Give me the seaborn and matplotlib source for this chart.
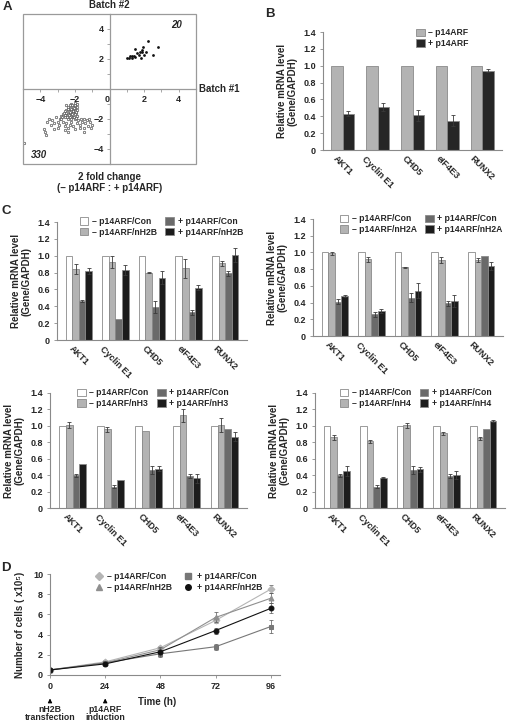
import numpy as np
import pandas as pd
import seaborn as sns
import matplotlib.pyplot as plt
from matplotlib.patches import Rectangle
from matplotlib.lines import Line2D
from matplotlib.ticker import MultipleLocator, FuncFormatter

# ---- panel A : 2 fold change scatter ----
up_x = [1.0, 1.2, 1.3, 1.4, 1.5, 1.6, 1.7, 1.8, 1.9, 1.95, 2.0, 2.2, 2.5, 2.8, 1.3, 1.1, 1.75, 1.85, 2.1, 1.45]
up_y = [2.1, 2.2, 2.1, 2.2, 2.7, 2.4, 2.3, 2.1, 2.6, 2.8, 2.3, 3.2, 2.3, 2.8, 2.2, 2.1, 2.45, 2.5, 2.5, 2.15]

down_x = [-2.0, -2.1, -2.2, -2.0, -1.9, -2.3, -2.1, -2.0, -2.2, -2.4, -2.5, -2.3, -2.1, -1.9, -1.95,
          -2.0, -2.2, -2.4, -2.6, -2.5, -2.7, -2.3, -2.1, -1.9, -2.0, -2.2, -2.4, -2.6, -2.8, -2.5,
          -2.3, -1.9, -2.0, -2.15, -2.35, -2.45, -2.05, -2.25, -1.95, -2.15, -2.35, -2.55, -2.65, -2.75,
          -2.85, -2.05, -1.92, -2.28, -2.12, -2.42,
          -3.5, -3.3, -3.1, -3.0, -2.9, -3.2, -2.7, -2.6, -2.5, -2.4, -2.3, -2.2, -2.1, -1.9, -1.8,
          -1.7, -1.6, -1.5, -1.4, -1.3, -1.2, -1.1, -1.0, -1.05, -1.25, -1.45, -1.65, -3.4, -2.8, -3.6,
          -2.95,
          -3.8, -3.7, -3.65, -3.2, -2.4, -1.7, -1.45, -4.95, -2.0, -2.6]
down_y = [-1.1, -1.2, -1.0, -1.3, -1.2, -1.3, -1.4, -1.5, -1.5, -1.2, -1.4, -1.6, -1.6, -1.4, -1.6,
          -1.7, -1.8, -1.7, -1.5, -1.6, -1.7, -1.9, -1.9, -1.8, -2.0, -2.0, -2.0, -1.9, -1.8, -1.1,
          -1.1, -1.0, -0.95, -1.05, -1.45, -1.85, -1.25, -1.35, -1.55, -1.7, -1.75, -1.75, -1.6, -1.9,
          -2.0, -1.85, -1.95, -1.55, -1.45, -1.35,
          -2.0, -2.1, -1.9, -2.2, -2.4, -2.3, -2.2, -2.5, -2.3, -2.6, -2.4, -2.2, -2.5, -2.3, -2.1,
          -2.4, -2.2, -2.0, -2.3, -2.1, -2.0, -2.2, -2.4, -2.6, -2.5, -2.6, -2.0, -2.4, -2.0, -2.2,
          -2.6,
          -2.7, -2.9, -3.1, -2.7, -2.9, -2.6, -2.9, -3.6, -2.7, -2.75]

# ---- panel B ----
genes = ["AKT1", "Cyclin E1", "CHD5", "eIF4E3", "RUNX2"]
b_labels = ["\u2013 p14ARF", "+ p14ARF"]
b_minus = [1.0, 1.0, 1.0, 1.0, 1.0]
b_plus = [0.43, 0.51, 0.41, 0.35, 0.94]
b_minus_err = [0, 0, 0, 0, 0]
b_plus_err = [0.03, 0.05, 0.06, 0.07, 0.02]

# ---- panel C ----
c_histones = ["nH2B", "nH2A", "nH3", "nH4"]
c_con_minus = {
    "nH2B": [1.0, 1.0, 1.0, 1.0, 1.0],
    "nH2A": [1.0, 1.0, 1.0, 1.0, 1.0],
    "nH3": [1.0, 1.0, 1.0, 1.0, 1.0],
    "nH4": [1.0, 1.0, 1.0, 1.0, 1.0],
}
c_h_minus = {
    "nH2B": [0.84, 0.93, 0.80, 0.85, 0.91],
    "nH2A": [0.99, 0.92, 0.82, 0.91, 0.91],
    "nH3": [1.01, 0.96, 0.94, 1.13, 1.01],
    "nH4": [0.86, 0.81, 1.01, 0.91, 0.85],
}
c_h_minus_err = {
    "nH2B": [0.06, 0.07, 0.01, 0.11, 0.03],
    "nH2A": [0.02, 0.03, 0.01, 0.04, 0.02],
    "nH3": [0.04, 0.03, 0.0, 0.08, 0.09],
    "nH4": [0.03, 0.02, 0.03, 0.02, 0.02],
}
c_con_plus = {
    "nH2B": [0.46, 0.25, 0.39, 0.33, 0.79],
    "nH2A": [0.41, 0.26, 0.46, 0.39, 0.96],
    "nH3": [0.40, 0.26, 0.46, 0.39, 0.96],
    "nH4": [0.40, 0.26, 0.46, 0.39, 0.96],
}
c_con_plus_err = {
    "nH2B": [0.01, 0.0, 0.07, 0.03, 0.03],
    "nH2A": [0.03, 0.03, 0.05, 0.03, 0.0],
    "nH3": [0.02, 0.02, 0.05, 0.02, 0.0],
    "nH4": [0.02, 0.02, 0.05, 0.03, 0.0],
}
c_h_plus = {
    "nH2B": [0.82, 0.83, 0.74, 0.62, 1.01],
    "nH2A": [0.48, 0.30, 0.54, 0.42, 0.84],
    "nH3": [0.53, 0.34, 0.48, 0.36, 0.87],
    "nH4": [0.45, 0.37, 0.47, 0.40, 1.06],
}
c_h_plus_err = {
    "nH2B": [0.04, 0.06, 0.08, 0.03, 0.08],
    "nH2A": [0.01, 0.02, 0.09, 0.07, 0.05],
    "nH3": [0.0, 0.0, 0.03, 0.06, 0.06],
    "nH4": [0.06, 0.01, 0.03, 0.05, 0.01],
}

# ---- panel D ----
time_h = [0, 24, 48, 72, 96]
d_labels = ["\u2013 p14ARF/Con", "\u2013 p14ARF/nH2B", "+ p14ARF/Con", "+ p14ARF/nH2B"]
d_vals = [
    [0.5, 1.3, 2.7, 5.4, 8.5],
    [0.5, 1.2, 2.5, 5.7, 7.6],
    [0.5, 1.2, 2.1, 2.8, 4.8],
    [0.5, 1.1, 2.3, 4.4, 6.6],
]
d_errs = [
    [0.1, 0.2, 0.2, 0.3, 0.4],
    [0.1, 0.2, 0.2, 0.5, 0.5],
    [0.1, 0.2, 0.2, 0.3, 0.6],
    [0.1, 0.2, 0.5, 0.3, 0.5],
]

sns.set_style("ticks")
plt.rcParams['font.family'] = ['Liberation Sans', 'DejaVu Sans']
plt.rcParams['font.weight'] = 'bold'
plt.rcParams['axes.labelweight'] = 'bold'

W, H = 512, 727
fig = plt.figure(figsize=(W / 100, H / 100), dpi=100)
GRAY = '#8a8a8a'
FS = 6.5


def px_axes(l, t, r, b):
    return fig.add_axes([l / W, 1 - b / H, (r - l) / W, (b - t) / H])


def style_bar_axes(ax):
    sns.despine(ax=ax)
    for s in ['left', 'bottom']:
        ax.spines[s].set_color(GRAY)
        ax.spines[s].set_linewidth(0.8)
    ax.set_ylim(0, 1.4)
    ax.set_yticks(np.arange(0, 1.41, 0.2))
    ax.yaxis.set_major_formatter(FuncFormatter(lambda v, p: '0' if abs(v) < 1e-9 else f'{v:.1f}'))
    ax.tick_params(axis='y', length=2, width=0.6, color=GRAY, labelsize=FS, pad=3)
    ax.tick_params(axis='x', length=0, labelsize=FS, pad=3)
    for t in ax.get_xticklabels():
        t.set_rotation(-45)
        t.set_ha('center')
        t.set_va('top')
    ax.set_xlabel('')
    ax.set_ylabel('Relative mRNA level\n(Gene/GAPDH)', fontsize=7, labelpad=4, linespacing=1.1)


def bar_panel(ax, series, errs, labels, colors, width, leg_anchor):
    rows = []
    for lab, vals in zip(labels, series):
        for g, v in zip(genes, vals):
            rows.append({'gene': g, 'cond': lab, 'value': v})
    df = pd.DataFrame(rows)
    sns.barplot(data=df, x='gene', y='value', hue='cond', hue_order=labels, order=genes,
                palette=colors, width=width, edgecolor=GRAY, linewidth=0.6,
                errorbar=None, ax=ax)
    bars = sorted([p for p in ax.patches if p.get_width() > 0], key=lambda p: p.get_x())
    err_flat = [errs[k][i] for i in range(len(genes)) for k in range(len(labels))]
    for p, e in zip(bars, err_flat):
        if e > 0:
            ax.errorbar(p.get_x() + p.get_width() / 2, p.get_height(), yerr=e, fmt='none',
                        ecolor='#3a3a3a', elinewidth=0.6, capsize=1.3, capthick=0.6)
    handles, labs = ax.get_legend_handles_labels()
    ax.legend(handles, labs, ncol=2 if len(labels) > 2 else 1, loc='upper left',
              bbox_to_anchor=leg_anchor, frameon=False, fontsize=FS - 0.3,
              handlelength=1.0, handleheight=1.0, handletextpad=0.4,
              columnspacing=1.0, labelspacing=0.15, borderpad=0, borderaxespad=0)
    style_bar_axes(ax)


# ---------------- panel A ----------------
axA = px_axes(23, 14, 196, 164)
axA.scatter(up_x, up_y, s=4, color='#111111', linewidths=0)
axA.scatter(down_x, down_y, s=3.2, facecolors='white', edgecolors='#444444', linewidths=0.45)
axA.set_xlim(-5, 5)
axA.set_ylim(-5, 5)
axA.spines['left'].set_position('zero')
axA.spines['bottom'].set_position('zero')
for s in ['top', 'right']:
    axA.spines[s].set_visible(False)
for s in ['left', 'bottom']:
    axA.spines[s].set_color('#9a9a9a')
    axA.spines[s].set_linewidth(0.9)
axA.add_patch(Rectangle((0, 0), 1, 1, transform=axA.transAxes, fill=False,
                        edgecolor='#9a9a9a', linewidth=0.9, clip_on=False))
axA.set_xticks([-4, -2, 0, 2, 4])
axA.set_yticks([-4, -2, 2, 4])
axA.xaxis.set_minor_locator(MultipleLocator(1))
axA.yaxis.set_minor_locator(MultipleLocator(1))
axA.tick_params(which='both', length=2, width=0.6, color='#9a9a9a', labelsize=FS, pad=2)
axA.xaxis.get_major_ticks()[2].label1.set_ha('right')
axA.text(0.5, 1.03, 'Batch #2', transform=axA.transAxes, ha='center', va='bottom', fontsize=7)
axA.text(1.02, 0.5, 'Batch #1', transform=axA.transAxes, ha='left', va='center', fontsize=7)
axA.text(3.9, 4.3, '20', fontsize=7, style='italic', ha='center', va='center')
axA.text(-4.1, -4.4, '330', fontsize=7, style='italic', ha='center', va='center')
axA.text(0.5, -0.05, '2 fold change\n(\u2013 p14ARF : + p14ARF)', transform=axA.transAxes,
         ha='center', va='top', fontsize=7, linespacing=1.2)

# ---------------- panel B ----------------
axB = px_axes(323, 32, 502, 150)
bar_panel(axB, [b_minus, b_plus], [b_minus_err, b_plus_err], b_labels,
          ['#b3b3b3', '#262626'], 0.66, ((416 - 323) / 179, 1.03))

# ---------------- panel C ----------------
c_colors = ['#ffffff', '#b3b3b3', '#6a6a6a', '#1c1c1c']
c_boxes = [(57, 222, 247, 340), (313, 219, 503, 336), (50, 393, 247, 508), (315, 393, 505, 508)]
c_anchor_x = [0.12, 0.14, 0.137, 0.13]
for h, box, ax_x in zip(c_histones, c_boxes, c_anchor_x):
    ax = px_axes(*box)
    labels = ["\u2013 p14ARF/Con", "\u2013 p14ARF/" + h, "+ p14ARF/Con", "+ p14ARF/" + h]
    series = [c_con_minus[h], c_h_minus[h], c_con_plus[h], c_h_plus[h]]
    errs = [[0] * 5, c_h_minus_err[h], c_con_plus_err[h], c_h_plus_err[h]]
    bar_panel(ax, series, errs, labels, c_colors, 0.72, (ax_x, 1.04))

# ---------------- panel D ----------------
axD = px_axes(50, 574, 280, 675)
d_colors = ['#b5b5b5', '#8f8f8f', '#777777', '#111111']
d_markers = ['D', '^', 's', 'o']
for vals, errs, col, mk in zip(d_vals, d_errs, d_colors, d_markers):
    axD.errorbar(time_h, vals, yerr=errs, fmt='none', ecolor='#555555', elinewidth=0.5,
                 capsize=1.3, capthick=0.5)
    sns.lineplot(x=time_h, y=vals, color=col, marker=mk, markersize=3.5, markeredgecolor=col,
                 linewidth=0.8, ax=axD)
proxies = [Line2D([], [], linestyle='none', marker=mk, color=col, markersize=4)
           for col, mk in zip(d_colors, d_markers)]
axD.legend(proxies, d_labels, ncol=2, loc='upper left', bbox_to_anchor=(0.19, 1.02), frameon=False,
           fontsize=FS - 0.3, handlelength=1.2, handletextpad=0.4, columnspacing=1.2,
           labelspacing=0.25, borderpad=0, borderaxespad=0)
sns.despine(ax=axD)
for s in ['left', 'bottom']:
    axD.spines[s].set_color(GRAY)
    axD.spines[s].set_linewidth(0.8)
axD.set_xlim(0, 100)
axD.set_ylim(0, 10)
axD.set_xticks(time_h)
axD.set_yticks([0, 2, 4, 6, 8, 10])
axD.tick_params(length=2, width=0.6, color=GRAY, labelsize=FS, pad=3)
axD.set_xlabel('Time (h)', fontsize=7)
axD.xaxis.set_label_coords(0.465, -0.22)
axD.set_ylabel('Number of cells ( x10\u2075)', fontsize=7, labelpad=6)
for xv, txt in [(0, 'nH2B\ntransfection'), (24, 'p14ARF\ninduction')]:
    axD.annotate('', xy=(xv, -0.205), xytext=(xv, -0.29), xycoords=('data', 'axes fraction'),
                 textcoords=('data', 'axes fraction'),
                 arrowprops=dict(arrowstyle='-|>', color='black', lw=0.7, mutation_scale=6))
    axD.text(xv, -0.295, txt, transform=axD.get_xaxis_transform(), ha='center', va='top',
             fontsize=6.3, linespacing=0.95)

# panel letters
for letter, x, y in [('A', 7, 7), ('B', 270, 14), ('C', 6, 211), ('D', 6, 568)]:
    fig.text(x / W, 1 - y / H, letter, fontsize=9.5, ha='center', va='center')

fig.savefig('out.png', dpi=100)
